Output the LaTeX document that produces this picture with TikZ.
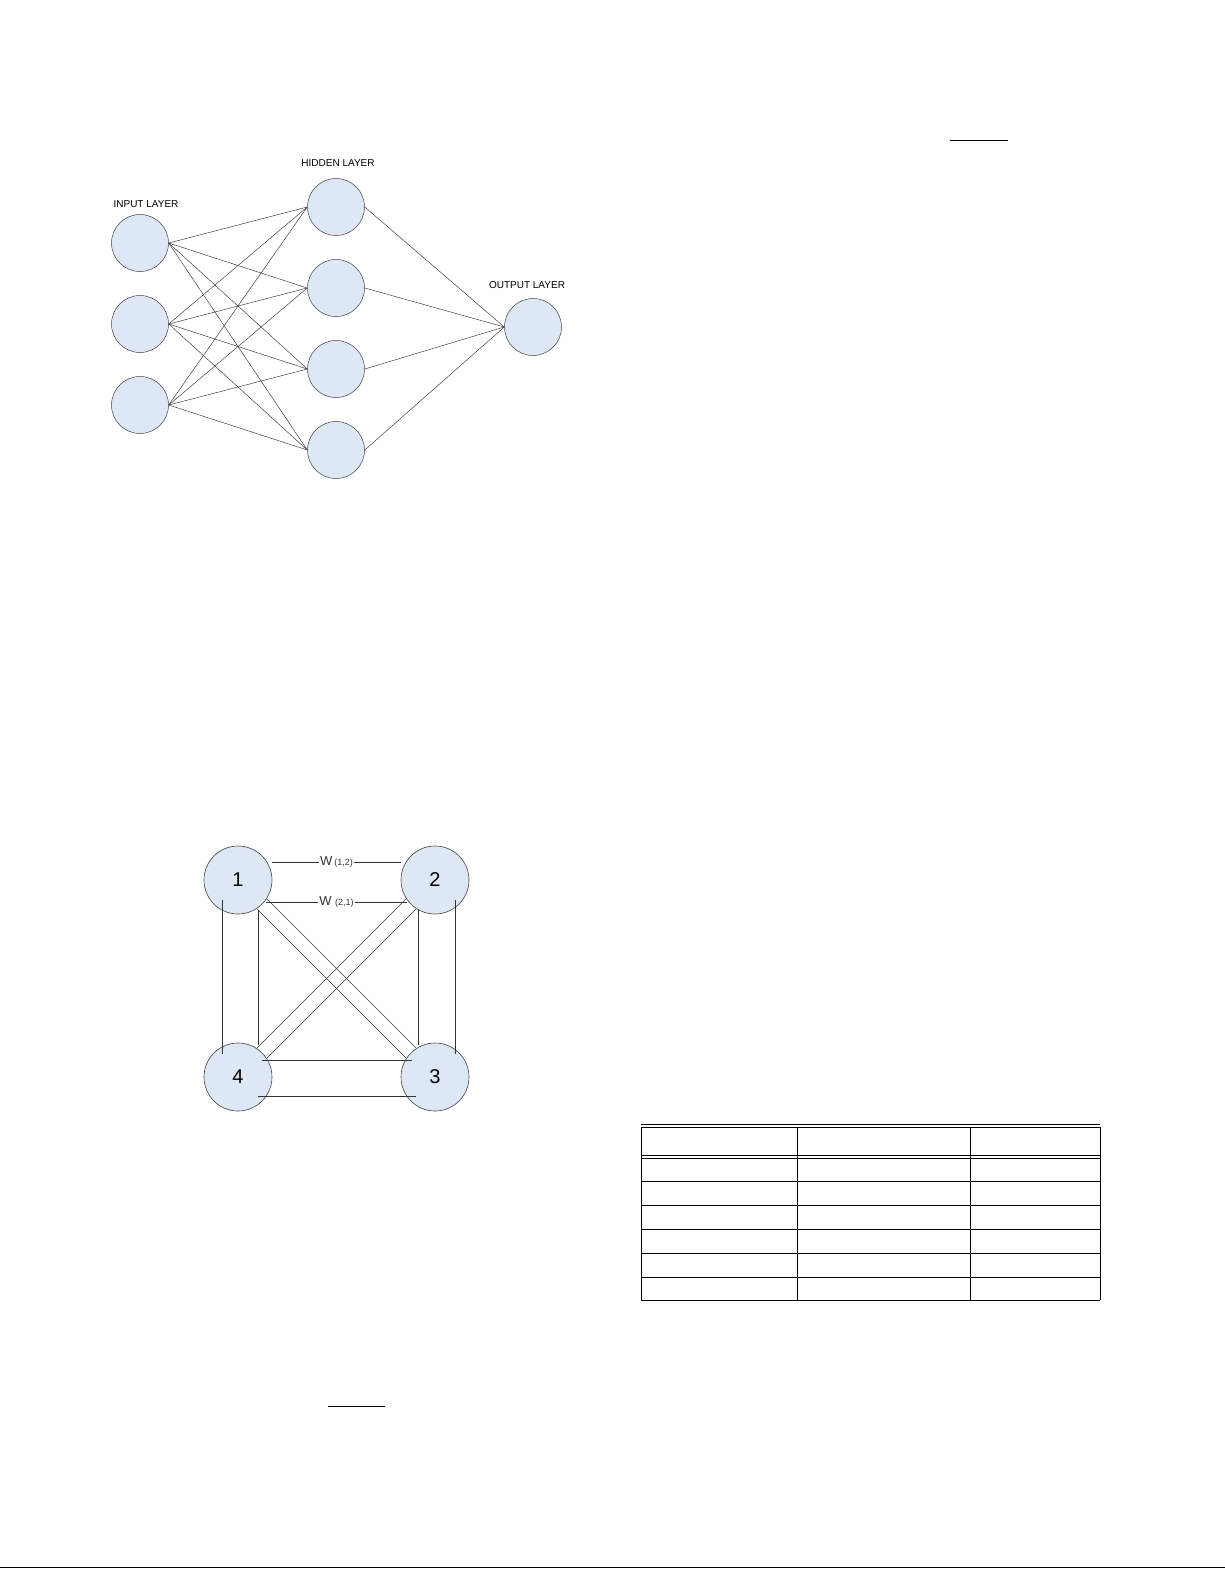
\documentclass[tikz,border=0pt]{standalone}
\usepackage{fontspec}
\setmainfont{Liberation Sans}
\definecolor{nfill}{RGB}{222,231,246}
\begin{document}
\begin{tikzpicture}[x=1pt,y=-1pt,
  neuron/.style={circle,draw=black!75,fill=nfill,line width=0.5pt,minimum size=57pt,inner sep=0pt},
  bignode/.style={circle,draw=black!75,fill=nfill,line width=0.6pt,minimum size=68pt,inner sep=0pt,font=\fontsize{20}{20}\selectfont},
  conn/.style={black!80,line width=0.45pt},
  lbl/.style={font=\fontsize{10}{10}\selectfont},
  tab/.style={black,line width=1pt}]
\useasboundingbox (0,0) rectangle (1225,1585);
% neural network
\foreach \i/\y in {1/243,2/324,3/405} \node[neuron] (in\i) at (140,\y) {};
\foreach \j/\y in {1/207,2/288,3/369,4/450} \node[neuron] (h\j) at (336,\y) {};
\node[neuron] (out) at (533,327) {};
\foreach \i in {1,2,3} \foreach \j in {1,2,3,4} \draw[conn] (in\i.east) -- (h\j.west);
\foreach \j in {1,2,3,4} \draw[conn] (h\j.east) -- (out.west);
\node[lbl] (lin) at (146,204) {INPUT LAYER};
\node[lbl] (lhid) at (338,163) {HIDDEN LAYER};
\node[lbl] (lout) at (527,285) {OUTPUT LAYER};
% Hopfield square
\node[bignode] (n1) at (238,880) {1};
\node[bignode] (n2) at (435,880) {2};
\node[bignode] (n3) at (435,1077) {3};
\node[bignode] (n4) at (238,1077) {4};
\begin{scope}[on background layer/.style={}]
\end{scope}
\draw[conn] (n1.east |- 0,862) -- node[fill=white,inner sep=1pt,font=\fontsize{13}{13}\selectfont] (w12) {W\,{\fontsize{9}{9}\selectfont(1,2)}} (n2.west |- 0,862);
\draw[conn] ([xshift=-6pt]n1.east |- 0,902) -- node[fill=white,inner sep=1pt,font=\fontsize{13}{13}\selectfont] (w21) {W {\fontsize{9}{9}\selectfont(2,1)}} ([xshift=6pt]n2.west |- 0,902);
\draw[conn] (222,900) -- (222,1054);
\draw[conn] (258,910) -- (258,1045);
\draw[conn] (418,910) -- (418,1045);
\draw[conn] (455,900) -- (455,1054);
\draw[conn] (262,1060) -- (412,1060);
\draw[conn] (258,1096) -- (416,1096);
\draw[conn] ([shift={(-5,5)}]n1.-45) -- ([shift={(-5,5)}]n3.135);
\draw[conn] ([shift={(5,-5)}]n1.-45) -- ([shift={(5,-5)}]n3.135);
\draw[conn] ([shift={(5,5)}]n2.-135) -- ([shift={(5,5)}]n4.45);
\draw[conn] ([shift={(-5,-5)}]n2.-135) -- ([shift={(-5,-5)}]n4.45);
% table
\draw[tab,line width=0.8pt] (641,1124) -- (1100,1124) (641,1127) -- (1100,1127);
\draw[tab,line width=0.8pt] (641,1155) -- (1100,1155) (641,1158) -- (1100,1158);
\foreach \y in {1181,1205,1229,1253,1277,1300} \draw[tab] (641,\y) -- (1100,\y);
\foreach \x in {641,797,970,1100} \draw[tab] (\x,1127) -- (\x,1300);
% small rules
\draw[black,line width=0.8pt] (950,140) -- (1008,140);
\draw[black,line width=0.8pt] (328,1406) -- (385,1406);
\draw[black,line width=1pt] (0,1567) -- (1225,1567);
\end{tikzpicture}
\end{document}
